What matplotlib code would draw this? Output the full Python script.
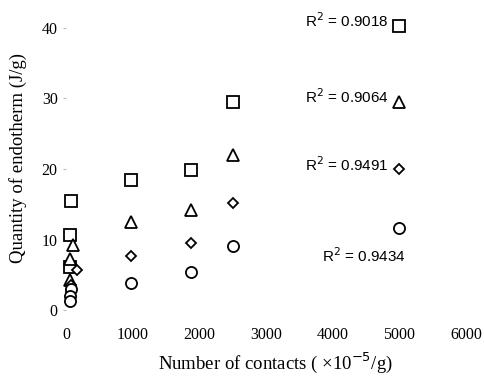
import matplotlib
matplotlib.use("Agg")
import matplotlib.pyplot as plt

# Data
sq_x = [80, 60, 60, 970, 1880, 2500, 4990]
sq_y = [15.4, 10.6, 6.1, 18.5, 19.9, 29.5, 40.3]
tri_x = [100, 60, 60, 970, 1880, 2500, 4990]
tri_y = [9.2, 7.3, 4.3, 12.5, 14.2, 22.0, 29.5]
dia_x = [160, 80, 80, 970, 1880, 2500, 4990]
dia_y = [5.7, 3.5, 2.5, 7.7, 9.5, 15.2, 20.0]
cir_x = [80, 60, 60, 970, 1880, 2500, 4990]
cir_y = [3.0, 2.0, 1.3, 3.9, 5.4, 9.1, 11.6]

r2_labels = ["R$^2$ = 0.9018", "R$^2$ = 0.9064", "R$^2$ = 0.9491", "R$^2$ = 0.9434"]
x_ticks = [0, 1000, 2000, 3000, 4000, 5000, 6000]
y_ticks = [0, 10, 20, 30, 40]

W, H = 485, 381
fig = plt.figure(figsize=(W / 100, H / 100), dpi=100)
left, right = 66 / W, 466 / W
bottom, top = (H - 310) / H, (H - 28) / H
ax = fig.add_axes([left, bottom, right - left, top - bottom])

common = dict(linestyle="none", markerfacecolor="white", markeredgecolor="black",
              markeredgewidth=1.3, clip_on=False)
ax.plot(sq_x, sq_y, marker="s", markersize=8, **common)
ax.plot(tri_x, tri_y, marker="^", markersize=8.5, **common)
ax.plot(dia_x, dia_y, marker="D", markersize=5.5, **common)
ax.plot(cir_x, cir_y, marker="o", markersize=8, **common)

ax.set_xlim(0, 6000)
ax.set_ylim(0, 40)
ax.set_xticks(x_ticks)
ax.set_yticks(y_ticks)
for s in ax.spines.values():
    s.set_visible(False)

serif = ["Liberation Serif", "DejaVu Serif"]
ax.tick_params(axis="x", length=0, pad=12)
ax.tick_params(axis="y", length=2, color="#bbbbbb", pad=4)
for lab in ax.get_xticklabels() + ax.get_yticklabels():
    lab.set_family(serif)
    lab.set_fontsize(11.5)

ax.set_xlabel("Number of contacts ( \u00d710$^{-5}$/g)", family=serif, fontsize=13.5)
ax.xaxis.set_label_coords(0.523, -0.188)
ax.xaxis.label.set_va("center")
ax.set_ylabel("Quantity of endotherm (J/g)", family=serif, fontsize=13.5)
ax.yaxis.set_label_coords(-0.12, 0.539)
ax.yaxis.label.set_va("center")
ax.yaxis.label.set_ha("center")

sans = ["Liberation Sans", "DejaVu Sans"]
# R^2 annotations placed next to the last point of each series
ax.annotate(r2_labels[0], xy=(sq_x[-1], sq_y[-1]), xytext=(-7, 4), textcoords="offset points",
            ha="right", va="center", family=sans, fontsize=11, annotation_clip=False)
ax.annotate(r2_labels[1], xy=(tri_x[-1], tri_y[-1]), xytext=(-7, 4), textcoords="offset points",
            ha="right", va="center", family=sans, fontsize=11, annotation_clip=False)
ax.annotate(r2_labels[2], xy=(dia_x[-1], dia_y[-1]), xytext=(-7, 3), textcoords="offset points",
            ha="right", va="center", family=sans, fontsize=11, annotation_clip=False)
ax.annotate(r2_labels[3], xy=(cir_x[-1], cir_y[-1]), xytext=(5, -20), textcoords="offset points",
            ha="right", va="center", family=sans, fontsize=11, annotation_clip=False)

fig.savefig("out.png", dpi=100, facecolor="white")
